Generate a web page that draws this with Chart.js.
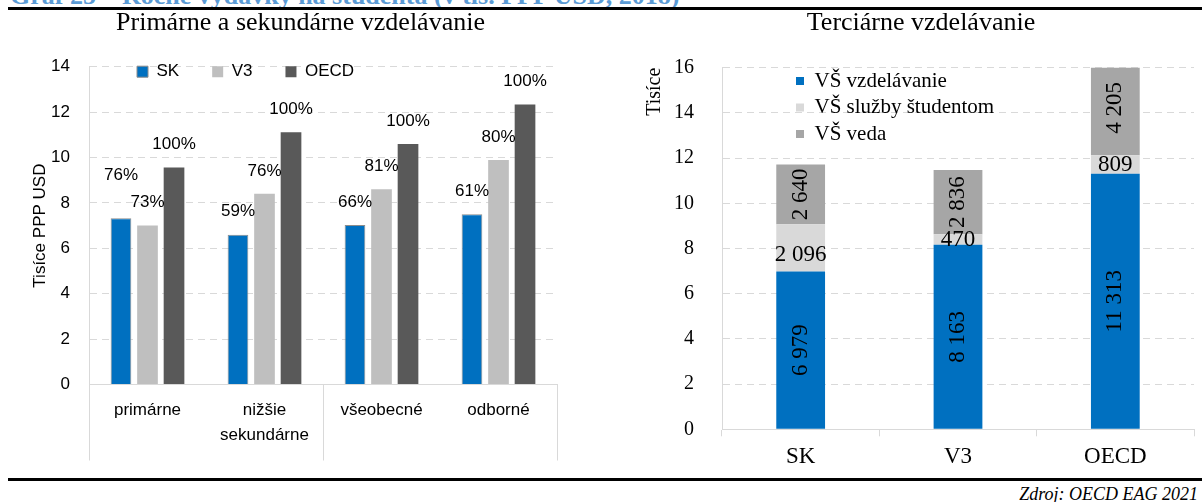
<!DOCTYPE html>
<html><head><meta charset="utf-8">
<script src="https://cdn.jsdelivr.net/npm/chart.js@4/dist/chart.umd.min.js"></script>
<style>
html,body{margin:0;padding:0;background:#fff;}
body{width:1202px;height:502px;position:relative;overflow:hidden;}
#hdr{position:absolute;left:10px;top:-17px;font:bold 26px 'Liberation Serif',serif;line-height:26px;color:#5B9BD5;white-space:nowrap;}
.rule{position:absolute;left:8px;right:0;height:3px;background:#000;}
#src{position:absolute;right:4px;top:485px;font:italic 18px 'Liberation Serif',serif;line-height:18px;white-space:nowrap;color:#000;}
.box{position:absolute;top:8px;height:464px;}
</style></head>
<body>
<div id="hdr">Graf 25 – Ročné výdavky na študenta (v tis. PPP USD, 2018)</div>
<div class="rule" style="top:7px"></div>
<div class="box" style="left:0;width:600px"><canvas id="c1"></canvas></div>
<div class="box" style="left:640px;width:562px"><canvas id="c2"></canvas></div>
<div class="rule" style="top:478px"></div>
<div id="src">Zdroj: OECD EAG 2021</div>
<script>
// ---- data: left chart (thousands PPP USD) ----
const categories = ['primárne', ['nižšie', 'sekundárne'], 'všeobecné', 'odborné'];
const skValues = [7.32, 6.60, 7.03, 7.50];
const v3Values = [7.00, 8.40, 8.60, 9.89];
const oecdValues = [9.56, 11.11, 10.59, 12.34];
const skPct = [76, 59, 66, 61];
const v3Pct = [73, 76, 81, 80];
const oecdPct = [100, 100, 100, 100];

// ---- data: right chart (PPP USD) ----
const tertCategories = ['SK', 'V3', 'OECD'];
const tertEducation = [6979, 8163, 11313];
const tertServices = [2096, 470, 809];
const tertResearch = [2640, 2836, 4205];

const SANS = "'Liberation Sans', Arial, sans-serif";
const SERIF = "'Liberation Serif', 'Times New Roman', serif";
Chart.defaults.color = '#000';
Chart.defaults.animation = false;

const moveLegend = {
  id: 'moveLegend',
  afterLayout(chart, args, o) {
    const lg = chart.legend;
    if (!lg || o.left === undefined) return;
    lg.left = o.left; lg.top = o.top; lg.right = o.right; lg.bottom = o.bottom;
    lg.width = o.right - o.left; lg.height = o.bottom - o.top;
  }
};

const pctLabels = {
  id: 'pctLabels',
  afterDatasetsDraw(chart, args, o) {
    const ctx = chart.ctx;
    ctx.save();
    ctx.font = o.size + 'px ' + SANS;
    ctx.fillStyle = '#000';
    ctx.textAlign = 'center';
    ctx.textBaseline = 'middle';
    chart.data.datasets.forEach((ds, di) => {
      chart.getDatasetMeta(di).data.forEach((el, i) => {
        const lift = (o.extraLift[di] && o.extraLift[di][i]) || o.lift;
        ctx.fillText(ds.pct[i] + '%', el.x, el.y - lift);
      });
    });
    ctx.restore();
  }
};

const fmt = v => String(v).replace(/\B(?=(\d{3})+(?!\d))/g, ' ');
const stackLabels = {
  id: 'stackLabels',
  afterDatasetsDraw(chart, args, o) {
    const ctx = chart.ctx;
    ctx.save();
    ctx.font = o.size + 'px ' + SERIF;
    ctx.fillStyle = '#000';
    ctx.textAlign = 'center';
    ctx.textBaseline = 'middle';
    chart.data.datasets.forEach((ds, di) => {
      chart.getDatasetMeta(di).data.forEach((el, i) => {
        const dy = (o.nudge[di] && o.nudge[di][i]) || 0;
        const cy = (el.y + el.base) / 2 + dy;
        const txt = fmt(ds.data[i]);
        if (ds.verticalLabel) {
          ctx.save();
          ctx.translate(el.x, cy);
          ctx.rotate(-Math.PI / 2);
          ctx.fillText(txt, 0, 0);
          ctx.restore();
        } else {
          ctx.fillText(txt, el.x, cy);
        }
      });
    });
    ctx.restore();
  }
};

const sepColor = c => (c.index === 1 || c.index === 3) ? 'rgba(0,0,0,0)' : '#D9D9D9';

new Chart(document.getElementById('c1'), {
  type: 'bar',
  data: {
    labels: categories,
    datasets: [
      { label: 'SK', data: skValues, pct: skPct, backgroundColor: '#0070C0', borderColor: '#8C8C8C', borderWidth: 1 },
      { label: 'V3', data: v3Values, pct: v3Pct, backgroundColor: '#BFBFBF', borderWidth: 0 },
      { label: 'OECD', data: oecdValues, pct: oecdPct, backgroundColor: '#595959', borderWidth: 0 }
    ]
  },
  options: {
    responsive: true,
    maintainAspectRatio: false,
    barPercentage: 0.78,
    categoryPercentage: 0.68,
    layout: { padding: { left: 44, right: 43, top: 0, bottom: 0 } },
    scales: {
      x: {
        grid: { offset: true, drawOnChartArea: false, drawTicks: true, tickLength: 76, color: sepColor, tickColor: sepColor, lineWidth: 1 },
        border: { display: true, color: '#D9D9D9' },
        ticks: { font: { family: SANS, size: 17, lineHeight: 1.5 }, color: '#000', padding: -63, maxRotation: 0, autoSkip: false },
        afterFit: s => { s.height = 87.5; }
      },
      y: {
        min: 0, max: 14,
        ticks: { stepSize: 2, padding: 19, font: { family: SANS, size: 17 }, color: '#000' },
        grid: { color: '#D9D9D9', drawTicks: false },
        border: { display: true, color: '#D9D9D9', dash: [7, 5] },
        title: { display: true, text: 'Tisíce PPP USD', font: { family: SANS, size: 17 }, color: '#000', padding: { top: -14.2, bottom: 0 } },
        afterFit: s => { s.width = 45; }
      }
    },
    plugins: {
      title: { display: true, text: 'Primárne a sekundárne vzdelávanie', color: '#000', font: { family: SERIF, size: 26, weight: 'normal' }, padding: { top: 0, bottom: 26.5 } },
      legend: { position: 'top', align: 'start', maxHeight: 1, labels: { boxWidth: 11, boxHeight: 11, padding: 33, color: '#000', font: { family: SANS, size: 17 } } },
      moveLegend: { left: 104, top: 22.2, right: 600, bottom: 110 },
      tooltip: { enabled: false },
      pctLabels: { size: 17, lift: 23, extraLift: { 0: { 0: 43 } } }
    }
  },
  plugins: [moveLegend, pctLabels]
});

new Chart(document.getElementById('c2'), {
  type: 'bar',
  data: {
    labels: tertCategories,
    datasets: [
      { label: 'VŠ vzdelávanie', data: tertEducation, backgroundColor: '#0070C0', verticalLabel: true, clip: 0 },
      { label: 'VŠ služby študentom', data: tertServices, backgroundColor: '#D9D9D9', verticalLabel: false, clip: 0 },
      { label: 'VŠ veda', data: tertResearch, backgroundColor: '#A6A6A6', verticalLabel: true, clip: 0 }
    ]
  },
  options: {
    responsive: true,
    maintainAspectRatio: false,
    barPercentage: 0.62,
    categoryPercentage: 0.5,
    layout: { padding: { left: 8, right: 8, top: 0, bottom: 0 } },
    scales: {
      x: {
        stacked: true,
        grid: { offset: true, drawOnChartArea: false, drawTicks: true, tickLength: 7, color: '#D9D9D9', lineWidth: 1 },
        border: { display: true, color: '#D9D9D9' },
        ticks: { font: { family: SERIF, size: 23 }, color: '#000', padding: 7, maxRotation: 0 },
        afterFit: s => { s.height = 42.7; }
      },
      y: {
        stacked: true,
        min: 0, max: 16000,
        ticks: { stepSize: 2000, padding: 28, font: { family: SERIF, size: 20 }, color: '#000', callback: v => v / 1000 },
        grid: { color: '#D9D9D9', drawTicks: false },
        border: { display: true, color: '#D9D9D9', dash: [7, 5] },
        title: { display: true, text: 'Tisíce', align: 'end', font: { family: SERIF, size: 20 }, color: '#000', padding: { top: -5, bottom: 0 } },
        afterFit: s => { s.width = 74; }
      }
    },
    plugins: {
      title: { display: true, text: 'Terciárne vzdelávanie', color: '#000', font: { family: SERIF, size: 26, weight: 'normal' }, padding: { top: 0, bottom: 28.5 } },
      legend: { position: 'chartArea', align: 'start', labels: { boxWidth: 8, boxHeight: 8, padding: 5.5, color: '#000', font: { family: SERIF, size: 21 } } },
      moveLegend: { left: 150.5, top: 57, right: 550, bottom: 300 },
      tooltip: { enabled: false },
      stackLabels: { size: 23, nudge: { 1: { 0: 7 } } }
    }
  },
  plugins: [moveLegend, stackLabels]
});
</script>
</body></html>
